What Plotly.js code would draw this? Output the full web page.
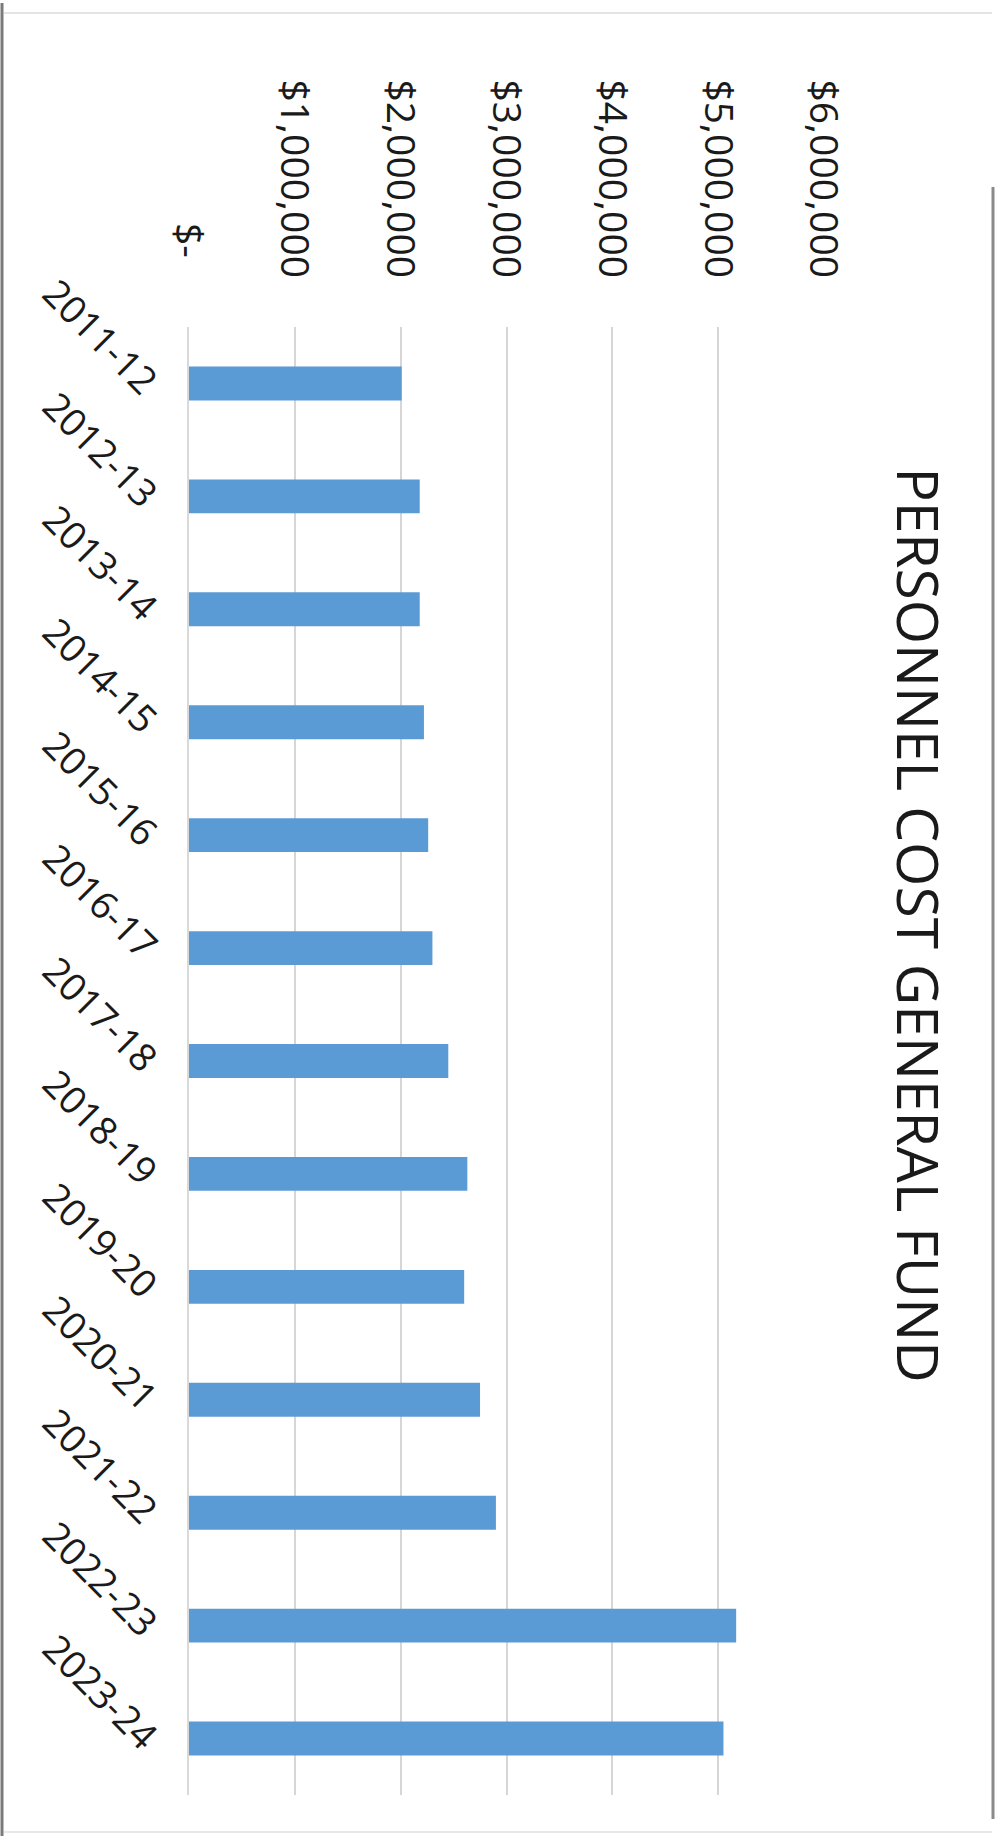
<!DOCTYPE html>
<html>
<head>
<meta charset="utf-8">
<script src="https://cdn.plot.ly/plotly-3.0.1.min.js"></script>
<style>
  html, body { margin: 0; padding: 0; background: #ffffff; overflow: hidden; }
  body { width: 997px; height: 1839px; position: relative; }
  /* the chart is laid out in landscape and turned a quarter clockwise onto the portrait page */
  #chart {
    position: absolute; left: 0; top: 0;
    width: 1839px; height: 997px;
    transform-origin: 0 0;
    transform: translate(997px, 0) rotate(90deg);
  }
</style>
</head>
<body>
<div id="chart"></div>
<script>
// fiscal years
const years = ["2011-12", "2012-13", "2013-14", "2014-15", "2015-16", "2016-17", "2017-18",
               "2018-19", "2019-20", "2020-21", "2021-22", "2022-23", "2023-24"];

// personnel cost, general fund (dollars)
const personnelCost = [2010000, 2180000, 2180000, 2220000, 2260000, 2300000, 2450000,
                       2630000, 2600000, 2750000, 2900000, 5170000, 5050000];

// value axis ticks
const costTicks = [0, 1000000, 2000000, 3000000, 4000000, 5000000, 6000000];
const costTickLabels = ["$-\u00a0\u00a0", "$1,000,000", "$2,000,000", "$3,000,000",
                        "$4,000,000", "$5,000,000", "$6,000,000"];

const chartTitle = "PERSONNEL COST GENERAL FUND";

// ---- figure geometry (landscape pixels) ----
const W = 1839, H = 997;
const M = { l: 327, r: 44, t: 173, b: 189 };
const plotW = W - M.l - M.r, plotH = H - M.t - M.b;
const px = X => (X - M.l) / plotW;          // landscape x pixel -> paper
const py = Y => (H - M.b - Y) / plotH;      // landscape y pixel -> paper

const textFont = "Open Sans, Noto Sans, sans-serif";
const ink = "#1a1a1a";

const trace = {
  type: "bar",
  x: years,
  y: personnelCost,
  marker: { color: "#5b9bd5", line: { width: 0 } },
  hoverinfo: "x+y"
};

// chart-area frame
const frame = [
  { x0: px(3), x1: px(1836), y0: py(995), y1: py(995), color: "#7a7a7a", w: 3 },
  { x0: px(187), x1: px(1819), y0: py(4), y1: py(4), color: "#8a8a8a", w: 3 },
  { x0: px(13), x1: px(13), y0: py(5), y1: py(993), color: "#e4e4e4", w: 2 },
  { x0: px(1832), x1: px(1832), y0: py(5), y1: py(993), color: "#e8e8e8", w: 2 }
].map(s => ({
  type: "line", xref: "paper", yref: "paper",
  x0: s.x0, x1: s.x1, y0: s.y0, y1: s.y1,
  line: { color: s.color, width: s.w }, layer: "below"
}));

const layout = {
  width: W, height: H, autosize: false,
  margin: { l: M.l, r: M.r, t: M.t, b: M.b, pad: 0 },
  paper_bgcolor: "#ffffff",
  plot_bgcolor: "#ffffff",
  showlegend: false,
  bargap: 0.70,
  font: { family: textFont, color: ink },
  title: {
    text: chartTitle,
    font: { family: textFont, size: 57, color: ink },
    x: 925 / W, xref: "container", xanchor: "center",
    y: 1 - 80 / H, yref: "container", yanchor: "middle"
  },
  xaxis: {
    type: "category",
    tickangle: -45,
    tickfont: { family: textFont, size: 38, color: ink },
    showgrid: false,
    showline: true, linecolor: "#d9d9d9", linewidth: 2,
    ticks: "", ticklabelstandoff: 6,
    zeroline: false, fixedrange: true
  },
  yaxis: {
    range: [0, 6000000],
    tickmode: "array",
    tickvals: costTicks,
    ticktext: costTickLabels,
    tickfont: { family: textFont, size: 39, color: ink },
    showgrid: true, gridcolor: "#d6d6d6", gridwidth: 2,
    zeroline: false, showline: false,
    ticks: "", ticklabelstandoff: 48,
    fixedrange: true
  },
  shapes: frame
};

Plotly.newPlot("chart", [trace], layout, { displayModeBar: false, staticPlot: true });
</script>
</body>
</html>
